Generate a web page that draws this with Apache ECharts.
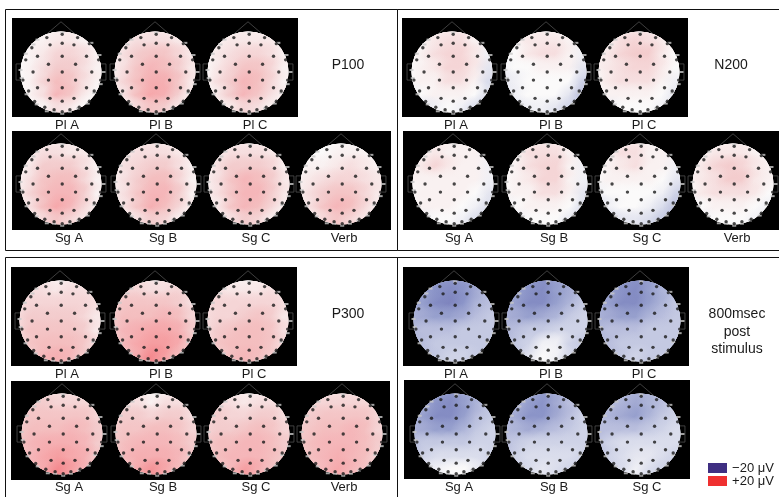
<!DOCTYPE html>
<html>
<head>
<meta charset="utf-8">
<title>ERP scalp maps</title>
<script src="https://cdn.jsdelivr.net/npm/echarts@6/dist/echarts.min.js"></script>
<style>html,body{margin:0;padding:0;background:#fff}#main{width:779px;height:497px}</style>
</head>
<body>
<div id="main"></div>
<script>
// scalp voltage in microvolts, read by eye: 7 rows front to back, 7 columns left to right
var p100PlA = [[0,0,0,1,1,0,0],[0,1,1,2,2,1,0],[0,1,2,4,4,3,1],[0,1,3,5,5,3,1],[0,1,4,7,6,3,1],[0,1,3,8,6,2,0],[0,0,1,3,2,0,0]];
var p100PlB = [[1,1,1,2,1,1,1],[1,2,3,3,3,2,1],[1,3,5,6,6,4,2],[1,3,6,8,7,5,2],[1,4,7,9,9,6,2],[1,3,7,10,9,5,1],[0,1,4,6,5,2,0]];
var p100PlC = [[0,0,0,1,1,0,0],[0,1,2,2,2,2,0],[0,2,3,4,4,3,1],[0,2,4,6,6,4,1],[0,3,5,8,7,4,1],[0,2,5,8,6,3,1],[0,1,2,4,3,1,0]];
var p100SgA = [[1,1,1,1,1,1,1],[1,2,3,3,2,2,1],[1,2,5,5,5,3,1],[1,3,6,7,7,4,1],[1,4,7,8,8,5,1],[1,3,7,10,8,4,1],[0,1,4,6,4,2,0]];
var p100SgB = [[1,1,1,2,1,1,1],[1,2,3,3,3,2,1],[1,3,4,5,5,3,1],[1,3,5,7,7,4,1],[1,3,6,8,8,5,1],[1,3,6,9,7,4,1],[0,1,3,5,4,1,0]];
var p100SgC = [[1,1,1,1,1,1,1],[1,2,3,3,3,2,1],[1,3,5,5,5,4,1],[1,3,6,8,7,5,2],[1,3,6,8,8,5,2],[1,2,6,8,7,4,1],[0,1,3,5,4,1,0]];
var p100Verb = [[0,0,0,0,0,0,0],[0,0,0,1,1,1,0],[0,1,1,2,3,2,1],[1,2,3,4,4,3,2],[1,3,5,6,6,4,2],[1,3,6,8,7,4,1],[0,1,4,6,4,2,0]];

var n200PlA = [[0,0,1,1,1,0,-1],[0,1,2,3,3,1,-1],[0,1,3,4,4,2,-1],[0,1,2,4,4,2,-2],[0,1,1,3,3,1,-3],[-1,0,1,1,1,0,-3],[-3,-2,-1,0,-1,-3,-5]];
var n200PlB = [[0,0,0,1,0,0,-1],[0,1,2,2,2,1,-1],[0,0,2,3,3,1,-1],[-1,0,0,1,1,1,-2],[-2,-1,0,0,0,0,-4],[-2,-1,0,0,0,-2,-6],[-4,-2,-1,-1,-2,-4,-7]];
var n200PlC = [[0,1,1,1,1,0,0],[0,1,3,4,3,2,0],[1,2,4,5,5,2,0],[1,2,3,4,4,2,0],[0,2,3,3,3,1,-1],[0,1,1,1,1,0,-2],[-2,-1,0,0,0,-1,-3]];
var n200SgA = [[0,1,1,1,1,0,-1],[0,1,2,1,1,1,-1],[1,2,4,2,1,1,-1],[1,1,1,1,1,1,-1],[0,1,1,1,1,0,-2],[0,1,1,1,0,-1,-3],[-2,-1,0,0,-1,-3,-4]];
var n200SgB = [[0,0,1,1,1,0,-1],[0,1,3,3,3,1,-1],[0,1,3,4,4,1,-1],[0,1,2,4,4,1,-1],[0,1,1,3,3,1,-2],[-1,0,1,1,1,0,-3],[-3,-1,0,0,0,-2,-4]];
var n200SgC = [[0,0,1,1,0,0,-1],[0,1,3,3,1,1,-1],[1,1,2,3,1,1,-1],[0,1,1,1,1,0,-2],[-1,0,0,0,0,-1,-4],[-3,-1,0,0,-1,-3,-6],[-5,-3,-2,-2,-3,-5,-7]];
var n200Verb = [[0,0,0,1,1,0,0],[0,1,2,2,2,1,0],[1,2,4,5,4,2,1],[1,2,3,5,5,2,1],[0,2,3,3,3,2,0],[-1,0,1,1,1,0,-1],[-2,-1,0,0,0,-1,-3]];

var p300PlA = [[1,1,1,0,1,1,1],[2,3,3,2,3,3,2],[3,4,4,4,4,4,3],[3,5,5,5,5,4,2],[3,6,6,6,6,5,2],[3,6,7,7,7,6,3],[2,5,8,9,8,5,2]];
var p300PlB = [[2,2,2,1,2,2,2],[3,4,4,3,3,4,3],[4,6,6,6,6,5,3],[5,7,7,7,8,7,4],[5,8,9,10,10,9,5],[5,8,10,11,11,10,5],[3,7,10,13,11,7,3]];
var p300PlC = [[1,1,1,0,1,1,1],[2,3,2,2,2,3,2],[3,4,4,4,4,4,3],[3,4,4,5,6,5,2],[3,5,6,7,7,6,3],[3,6,7,7,7,6,3],[2,5,7,8,7,5,2]];
var p300SgA = [[2,2,2,2,2,2,2],[4,5,5,4,4,4,3],[5,6,6,6,6,6,4],[5,7,7,7,8,7,5],[6,8,9,9,9,8,5],[6,8,10,11,10,9,5],[4,8,10,13,11,8,4]];
var p300SgB = [[1,2,1,0,1,2,1],[3,3,3,1,3,3,2],[4,5,5,4,5,5,3],[5,6,6,7,7,6,4],[5,7,8,8,8,7,5],[5,8,9,9,9,8,5],[3,7,10,12,10,7,3]];
var p300SgC = [[1,2,1,1,1,2,1],[3,3,3,2,3,3,2],[4,5,4,4,5,5,3],[4,5,5,6,7,6,4],[5,7,7,8,8,7,5],[5,7,8,8,8,7,5],[3,6,8,11,9,6,3]];
var p300Verb = [[2,2,2,2,2,2,2],[3,4,4,4,4,4,3],[4,5,6,6,6,6,4],[5,6,7,7,8,7,4],[5,7,8,8,8,7,5],[5,7,8,9,8,7,4],[3,6,8,10,8,6,3]];

var m800PlA = [[-7,-8,-9,-9,-8,-7,-6],[-8,-9,-10,-11,-10,-8,-6],[-8,-9,-11,-12,-10,-7,-6],[-7,-8,-9,-9,-8,-6,-5],[-7,-6,-6,-6,-5,-5,-5],[-7,-6,-5,-5,-5,-5,-5],[-8,-6,-5,-4,-4,-5,-6]];
var m800PlB = [[-7,-8,-9,-10,-8,-7,-6],[-8,-9,-10,-11,-9,-8,-6],[-8,-9,-11,-11,-9,-7,-5],[-7,-8,-9,-8,-7,-5,-4],[-7,-6,-5,-5,-4,-4,-4],[-7,-5,-4,-1,-1,-4,-5],[-7,-5,-2,0,-1,-4,-5]];
var m800PlC = [[-7,-8,-9,-10,-8,-7,-6],[-8,-9,-10,-11,-9,-7,-6],[-8,-9,-11,-11,-9,-7,-5],[-7,-8,-9,-9,-7,-6,-5],[-7,-6,-6,-6,-5,-5,-5],[-7,-6,-5,-5,-5,-5,-5],[-7,-6,-5,-4,-5,-5,-6]];
var m800SgA = [[-6,-7,-8,-9,-7,-6,-5],[-7,-8,-10,-11,-9,-7,-5],[-7,-9,-11,-11,-9,-6,-5],[-7,-8,-9,-9,-7,-5,-4],[-6,-5,-5,-5,-5,-4,-4],[-6,-4,-3,-3,-3,-3,-4],[-6,-2,-1,0,0,-2,-5]];
var m800SgB = [[-6,-6,-7,-9,-7,-6,-5],[-7,-7,-9,-10,-8,-6,-5],[-7,-8,-10,-10,-8,-6,-4],[-6,-7,-8,-7,-6,-5,-4],[-6,-5,-4,-4,-4,-4,-4],[-6,-4,-3,-3,-3,-3,-4],[-6,-4,-3,-2,-3,-4,-5]];
var m800SgC = [[-5,-6,-6,-7,-6,-5,-4],[-6,-6,-7,-8,-7,-6,-4],[-6,-7,-8,-9,-7,-5,-4],[-6,-6,-6,-6,-5,-4,-3],[-6,-4,-3,-3,-3,-3,-3],[-6,-4,-3,-2,-2,-3,-4],[-6,-4,-3,-1,-3,-4,-5]];

// electrode positions on the unit head
var darkX = [0.03,-0.35,0.41,-0.27,0.03,0.32,-0.58,0.03,0.63,-0.31,0.36,-0.69,0.03,0.76,-0.31,0.36,-0.58,0.03,0.63,-0.27,0.03,0.32,-0.17,0.22,-0.87,0.93,-0.94,0.98,-0.8,0.82,-0.65,0.7,-0.4,0.45,0.03,-0.72,0.7];
var darkY = [0.93,0.85,0.85,0.67,0.71,0.67,0.39,0.39,0.39,0.19,0.19,0,0,0,-0.2,-0.2,-0.39,-0.39,-0.39,-0.65,-0.72,-0.65,-0.93,-0.93,0.3,0.3,-0.2,-0.2,-0.47,-0.47,-0.73,-0.72,-0.87,-0.87,-0.98,0.6,0.7];
var lightX = [0.03,-0.58,0.75,0.95,1.05,0.98,0.82,0.66,0.42,0.03,-0.35,-0.6,-0.85,-0.97,-1,-0.87,-0.68,0.22,-0.17];
var lightY = [0.97,0.8,0.72,0.42,0,-0.3,-0.52,-0.78,-0.9,-1.03,-0.97,-0.8,-0.55,-0.15,0.05,0.45,0.68,-0.98,-0.98];

// colour scale, evenly spaced from -20 to +20 uV
var scaleColors = ['#3f2f82', '#6a6cb0', '#8b94c8', '#c4c9e2', '#fbfafa', '#f3cccd', '#f6a8ab', '#f2747a', '#ef3030'];
var gridSteps = [-1, -2 / 3, -1 / 3, 0, 1 / 3, 2 / 3, 1];

var headRadius = 40.5;
// [values, centre x, centre y, label, label x, label y]
var heads = [
  [p100PlA, 61, 72, 'Pl A', 67, 125], [p100PlB, 155, 72, 'Pl B', 161, 125], [p100PlC, 248, 72, 'Pl C', 255, 125],
  [p100SgA, 61, 184, 'Sg A', 69, 238], [p100SgB, 156, 184, 'Sg B', 163, 238], [p100SgC, 249, 184, 'Sg C', 256, 238], [p100Verb, 341, 184, 'Verb', 344, 238],
  [n200PlA, 452, 72, 'Pl A', 456, 125], [n200PlB, 546, 72, 'Pl B', 551, 125], [n200PlC, 639, 72, 'Pl C', 644, 125],
  [n200SgA, 453, 184, 'Sg A', 459, 238], [n200SgB, 547, 184, 'Sg B', 554, 238], [n200SgC, 640, 184, 'Sg C', 647, 238], [n200Verb, 733, 184, 'Verb', 737, 238],
  [p300PlA, 60, 321, 'Pl A', 67, 374], [p300PlB, 155, 321, 'Pl B', 161, 374], [p300PlC, 248, 321, 'Pl C', 254, 374],
  [p300SgA, 62, 434, 'Sg A', 69, 487], [p300SgB, 156, 434, 'Sg B', 163, 487], [p300SgC, 249, 434, 'Sg C', 256, 487], [p300Verb, 342, 434, 'Verb', 344, 487],
  [m800PlA, 454, 321, 'Pl A', 456, 374], [m800PlB, 547, 321, 'Pl B', 551, 374], [m800PlC, 640, 321, 'Pl C', 644, 374],
  [m800SgA, 455, 434, 'Sg A', 459, 487], [m800SgB, 547, 434, 'Sg B', 554, 487], [m800SgC, 640, 434, 'Sg C', 647, 487]
];

var blackBoxes = [[12,18,286,99],[12,131,379,99],[402,18,286,99],[403,131,376,99],[11,267,286,99],[11,381,379,99],[403,267,286,99],[404,380,286,99]];
var frames = [[5,9,392,241],[397,9,382,241],[5,257,392,240],[397,257,382,240]];
var FONT = '"Liberation Sans", Arial, sans-serif';

var myChart = echarts.init(document.getElementById('main'));
var grids = [], xAxes = [], yAxes = [], series = [];

function text(str, x, y, size) {
  return {type: 'text', x: x, y: y, style: {text: str, fill: '#1a1a1a', font: size + 'px ' + FONT, align: 'center', verticalAlign: 'middle'}};
}

var graphics = [];
blackBoxes.forEach(function (b) {
  graphics.push({type: 'rect', shape: {x: b[0], y: b[1], width: b[2], height: b[3]}, style: {fill: '#000'}});
});
frames.forEach(function (f) {
  graphics.push({type: 'rect', shape: {x: f[0] + 0.5, y: f[1] + 0.5, width: f[2], height: f[3]}, style: {fill: 'none', stroke: '#111', lineWidth: 1}});
});

heads.forEach(function (h, i) {
  grids.push({left: h[1] - headRadius, top: h[2] - headRadius, width: headRadius * 2, height: headRadius * 2});
  xAxes.push({type: 'value', gridIndex: i, min: -1, max: 1, show: false});
  yAxes.push({type: 'value', gridIndex: i, min: -1, max: 1, show: false});
  graphics.push(text(h[3], h[4], h[5], 13));

  // head disc, nose and ears
  series.push({
    type: 'custom', xAxisIndex: i, yAxisIndex: i, silent: true, animation: false, clip: false,
    coordinateSystem: 'cartesian2d',
    data: [[0, 0]],
    renderItem: function (params, api) {
      var c = api.coord([0, 0]);
      var r = api.size([1, 0])[0];
      var line = {fill: 'none', stroke: '#5a5a5a', lineWidth: 0.7};
      return {type: 'group', children: [
        {type: 'polyline', shape: {points: [api.coord([-0.37, 0.92]), api.coord([0, 1.24]), api.coord([0.37, 0.92])]}, style: line},
        {type: 'rect', shape: {x: c[0] - r * 1.11, y: c[1] - r * 0.2, width: r * 0.2, height: r * 0.4}, style: line},
        {type: 'rect', shape: {x: c[0] + r * 0.91, y: c[1] - r * 0.2, width: r * 0.2, height: r * 0.4}, style: line},
        {type: 'circle', shape: {cx: c[0], cy: c[1], r: r}, style: {fill: '#fbfafa'}}
      ]};
    }
  });

  // voltage field, soft spots clipped to the head
  var cells = [];
  h[0].forEach(function (row, ri) {
    row.forEach(function (v, ci) {
      cells.push([gridSteps[ci], gridSteps[6 - ri], v]);
    });
  });
  series.push({
    type: 'custom', xAxisIndex: i, yAxisIndex: i, silent: true, animation: false, clip: false,
    coordinateSystem: 'cartesian2d',
    data: cells,
    renderItem: function (params, api) {
      var p = api.coord([api.value(0), api.value(1)]);
      var c = api.coord([0, 0]);
      var r = api.size([1, 0])[0];
      var col = echarts.color.lerp((api.value(2) + 20) / 40, scaleColors);
      var parsed = echarts.color.parse(col);
      var clear = 'rgba(' + parsed[0] + ',' + parsed[1] + ',' + parsed[2] + ',0)';
      return {
        type: 'circle',
        shape: {cx: p[0], cy: p[1], r: r * 0.46},
        clipPath: {type: 'circle', shape: {cx: c[0], cy: c[1], r: r}},
        style: {fill: new echarts.graphic.RadialGradient(0.5, 0.5, 0.5, [
          {offset: 0, color: col}, {offset: 0.35, color: col}, {offset: 1, color: clear}
        ])}
      };
    }
  });

  series.push({
    type: 'scatter', xAxisIndex: i, yAxisIndex: i, silent: true, animation: false, clip: false,
    symbol: 'rect', symbolSize: [4, 2], itemStyle: {color: '#c8c8c8'},
    data: lightX.map(function (x, k) { return [x, lightY[k]]; })
  });
  series.push({
    type: 'scatter', xAxisIndex: i, yAxisIndex: i, silent: true, animation: false, clip: false,
    symbol: 'circle', symbolSize: 3.4, itemStyle: {color: '#1c1c1c'},
    data: darkX.map(function (x, k) { return [x, darkY[k]]; })
  });
});

graphics.push(text('P100', 348, 65, 14), text('N200', 731, 65, 14), text('P300', 348, 314, 14));
graphics.push(text('800msec', 737, 314, 14), text('post', 737, 332, 14), text('stimulus', 737, 349, 14));
graphics.push({type: 'rect', shape: {x: 708, y: 463, width: 19, height: 10}, style: {fill: '#3f2f82'}});
graphics.push({type: 'rect', shape: {x: 708, y: 476, width: 19, height: 10}, style: {fill: '#ef3030'}});
graphics.push(text('\u221220 \u03bcV', 753, 468, 13), text('+20 \u03bcV', 753, 481, 13));

var option = {
  backgroundColor: '#ffffff',
  animation: false,
  grid: grids,
  xAxis: xAxes,
  yAxis: yAxes,
  graphic: {elements: graphics},
  series: series
};
myChart.setOption(option);
</script>
</body>
</html>
